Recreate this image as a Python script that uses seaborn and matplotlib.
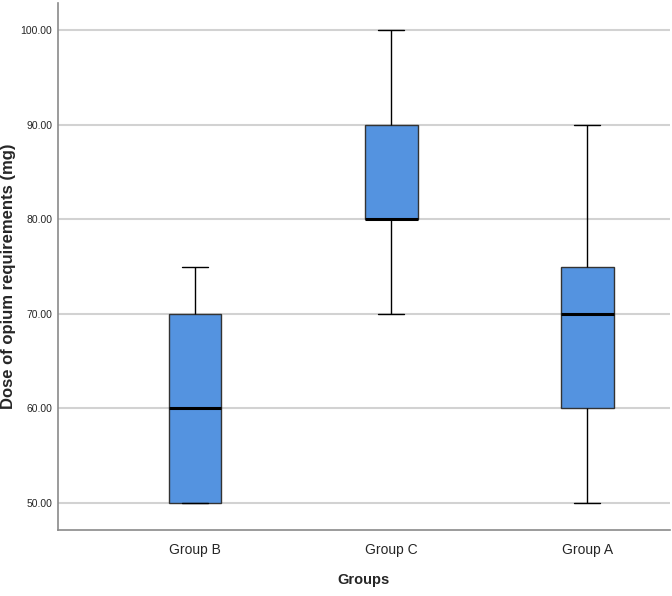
import matplotlib
matplotlib.use("Agg")
import matplotlib.pyplot as plt
import seaborn as sns
import pandas as pd

# dose values per group (chosen to reproduce the box statistics in the figure)
group_b = [50, 50, 50, 55, 60, 65, 70, 70, 75]
group_c = [70, 75, 80, 80, 80, 85, 90, 95, 100]
group_a = [50, 55, 60, 65, 70, 70, 75, 80, 90]
group_order = ["Group B", "Group C", "Group A"]

df = pd.DataFrame({
    "Groups": ["Group B"] * len(group_b) + ["Group C"] * len(group_c) + ["Group A"] * len(group_a),
    "Dose": group_b + group_c + group_a,
})

sns.set_style("white")
plt.rcParams["font.family"] = ["Liberation Sans Narrow", "Liberation Sans", "DejaVu Sans"]

fig = plt.figure(figsize=(6.72, 5.96), dpi=100)
ax = fig.add_axes([0.0863, 0.1107, 0.9107, 0.8843])

ax.yaxis.grid(True, color="#d2d2d2", linewidth=1.5)
ax.set_axisbelow(True)

sns.boxplot(data=df, x="Groups", y="Dose", order=group_order, ax=ax,
            color="#5493e0", width=0.27, saturation=1, linecolor="black",
            linewidth=1,
            boxprops=dict(edgecolor="#333333"),
            medianprops=dict(color="black", linewidth=2.2),
            whiskerprops=dict(color="black"),
            capprops=dict(color="black"))

ax.set_ylim(47.15, 102.85)
ax.set_xlim(-0.699, 2.423)
ax.set_yticks([50, 60, 70, 80, 90, 100])
ax.set_yticklabels(["%.2f" % v for v in [50, 60, 70, 80, 90, 100]], fontsize=7.5)
ax.tick_params(axis="x", labelsize=10, length=0, pad=9)
ax.tick_params(axis="y", length=0, pad=4)

for s in ["top", "right"]:
    ax.spines[s].set_visible(False)
for s in ["left", "bottom"]:
    ax.spines[s].set_color("#8a8a8a")
    ax.spines[s].set_linewidth(1.2)

ax.set_xlabel("Groups", fontsize=10.5, fontweight="bold", labelpad=12)
ax.set_ylabel("Dose of opium requirements (mg)", fontsize=12, fontweight="bold",
              family=["Liberation Sans", "DejaVu Sans"])
ax.yaxis.set_label_coords(-0.068, 0.482)

fig.savefig("out.png", dpi=100)
